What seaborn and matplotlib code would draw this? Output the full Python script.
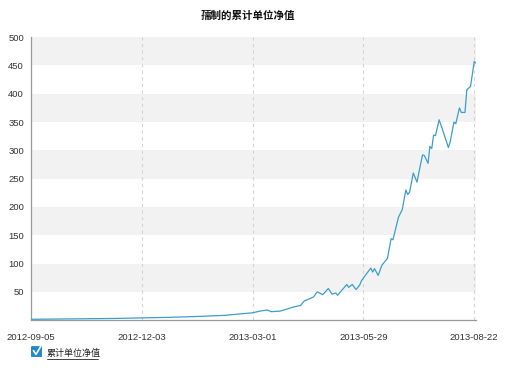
import numpy as np
import pandas as pd
import matplotlib.pyplot as plt
import matplotlib.lines as mlines
import matplotlib.patches as mpatches
import seaborn as sns

# points: trading-day index and cumulative NAV
day_idx = [0, 15, 30, 45, 60, 75, 90, 105, 113, 120, 124, 128, 130, 135, 139,
           142, 146, 148, 151, 153, 155, 158, 161, 163, 165, 166, 171, 172,
           174, 176, 178, 179, 181, 184, 185, 186, 188, 190, 193, 195, 196,
           199, 201, 203, 204, 205, 207, 209, 212, 213, 215, 216, 217, 218,
           219, 221, 223, 226, 227, 229, 230, 232, 233, 235, 236, 238, 240, 241]
nav = [1.5, 2, 2.5, 3, 4, 5, 6.5, 8.5, 11, 13, 16, 18, 15, 16, 20,
       23, 26, 34, 38, 41, 50, 45, 56, 46, 48, 44, 63, 58,
       63, 54, 62, 70, 79, 92, 85, 91, 79, 97, 109, 144, 142,
       182, 195, 230, 222, 226, 260, 244, 292, 291, 277, 307, 303, 327,
       326, 354, 335, 305, 315, 350, 347, 375, 367, 367, 407, 413, 457, 454]

tick_pos = [0, 60, 120, 180, 240]
tick_labels = ['2012-09-05', '2012-12-03', '2013-03-01', '2013-05-29', '2013-08-22']
y_ticks = [50, 100, 150, 200, 250, 300, 350, 400, 450, 500]

title = '孺制的累计单位净值'
legend_label = '累计单位净值'

df = pd.DataFrame({'idx': day_idx, 'nav': nav})

sns.set_style('white')
plt.rcParams['font.family'] = ['Liberation Sans', 'Noto Sans CJK SC', 'DejaVu Sans']

fig = plt.figure(figsize=(5.07, 3.68), dpi=100)
ax = fig.add_axes([0.061, 0.130, 0.878, 0.769])

# alternating grey bands
for lo in range(50, 500, 100):
    ax.axhspan(lo, lo + 50, color='#f2f2f2', zorder=0, lw=0)

for p in tick_pos:
    ax.axvline(p, color='#d4d4d4', ls=(0, (3, 3)), lw=0.8, zorder=1)

sns.lineplot(data=df, x='idx', y='nav', ax=ax, color='#3d9ec9', lw=0.9, zorder=3)

ax.set_xlim(0, 241)
ax.set_ylim(0, 500)
ax.set_xticks(tick_pos)
ax.set_xticklabels(tick_labels)
ax.set_yticks(y_ticks)
ax.set_xlabel('')
ax.set_ylabel('')
ax.tick_params(axis='both', labelsize=6.8, length=3, width=0.8,
               direction='out', pad=2)
ax.tick_params(axis='x', colors='#999999', labelcolor='#333333', pad=6)
ax.tick_params(axis='y', colors='#999999', labelcolor='#333333')
for s in ['top', 'right']:
    ax.spines[s].set_visible(False)
for s in ['left', 'bottom']:
    ax.spines[s].set_color('#999999')
    ax.spines[s].set_linewidth(0.9)

fig.text(0.49, 0.957, title, ha='center', va='center', fontsize=7.6,
         fontweight='heavy', color='#111111',
         family=['Noto Sans CJK SC', 'DejaVu Sans'])

# legend with checkbox
box = mpatches.FancyBboxPatch((0.063, 0.032), 0.018, 0.025,
                              boxstyle='round,pad=0.001', transform=fig.transFigure,
                              facecolor='#1e88d2', edgecolor='#1a6fb0', lw=0.5)
fig.patches.append(box)
check = mlines.Line2D([0.066, 0.071, 0.080], [0.047, 0.037, 0.058],
                      transform=fig.transFigure, color='white', lw=1.2)
fig.lines.append(check)
fig.text(0.092, 0.040, legend_label, ha='left', va='center', fontsize=6.5,
         color='#222222', family=['Noto Sans CJK SC', 'DejaVu Sans'])
underline = mlines.Line2D([0.092, 0.194], [0.024, 0.024], transform=fig.transFigure,
                          color='#222222', lw=0.6)
fig.lines.append(underline)

fig.savefig('out.png', dpi=100)
